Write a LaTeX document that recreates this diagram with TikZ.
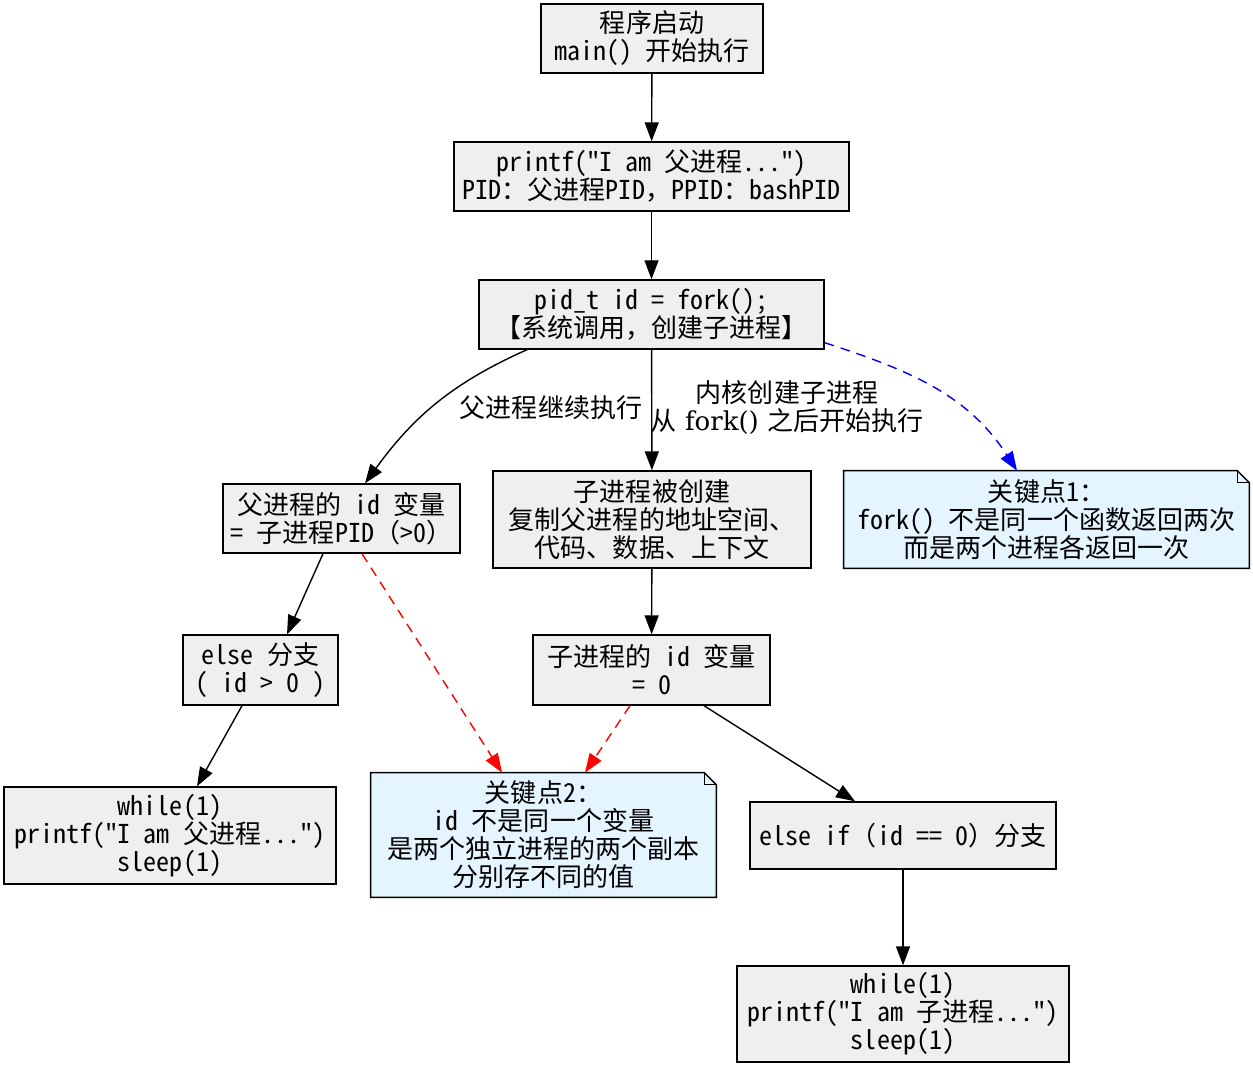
\documentclass[tikz,border=0pt]{standalone}
\usepackage{fontspec}
\setmainfont{Noto Sans CJK SC}[RawFeature=+hwid]
\newfontfamily\fw{Noto Sans CJK SC}
\newfontfamily\labelserif{DejaVu Serif}
\usetikzlibrary{positioning}
\usetikzlibrary{arrows.meta}
\usetikzlibrary{backgrounds}
\definecolor{boxgray}{RGB}{239,239,239}
\definecolor{noteblue}{RGB}{229,245,255}
\tikzset{
    procbox/.style 2 args = {rectangle, draw=black, line width=0.8pt, fill=boxgray, align=center, inner sep=0pt, minimum width=#1cm, minimum height=#2cm, font=\fontsize{14.8pt}{15.9pt}\selectfont},
    notebox/.style 2 args = {rectangle, align=center, inner sep=0pt, minimum width=#1cm, minimum height=#2cm, font=\fontsize{14.8pt}{15.9pt}\selectfont},
    notepaper/.style = {draw=black, line width=0.8pt, fill=noteblue},
    elabel/.style = {align=center, inner sep=0pt, font=\fontsize{14.8pt}{15.9pt}\selectfont},
    edgen/.style = {-{Triangle[length=0.38cm,width=0.28cm]}, line width=0.8pt},
    edger/.style = {edgen, red, dash pattern=on 5.5pt off 4pt}, % to key point 2
    edgeb/.style = {edgen, blue, dash pattern=on 5.5pt off 4pt}  % to key point 1
}

\begin{document}
\begin{tikzpicture}
\useasboundingbox (0,0) rectangle (25.06,-21.34);
%
\node[procbox={4.44}{1.38}] at (13.04, -0.77) (start) {程序启动\\main() 开始执行};
\node[procbox={7.90}{1.38}] at (13.03, -3.53) (hello) {printf({\fw"}I am 父进程...{\fw"})\\PID{\fw ：}父进程PID{\fw ，}PPID{\fw ：}bashPID};
\node[procbox={6.90}{1.38}] at (13.03, -6.29) (fork) {pid\_t id = fork();\\【系统调用{\fw ，}创建子进程】};
\node[procbox={4.74}{1.38}] at (6.83, -10.37) (pid) {父进程的 id 变量\\= 子进程PID{\fw （}>0{\fw ）}};
\node[procbox={6.36}{1.94}] at (13.04, -10.39) (child) {子进程被创建\\复制父进程的地址空间、\\代码、数据、上下文};
\node[notebox={8.10}{1.94}] at (20.93, -10.39) (note1) {关键点1{\fw ：}\\fork() 不是同一个函数返回两次\\而是两个进程各返回一次};
\node[procbox={3.10}{1.40}] at (5.21, -13.40) (else) {else 分支\\( id > 0 )};
\node[procbox={4.74}{1.40}] at (13.03, -13.40) (cid) {子进程的 id 变量\\= 0};
\node[procbox={6.64}{1.94}] at (3.40, -16.71) (ploop) {while(1)\\printf({\fw"}I am 父进程...{\fw"})\\sleep(1)};
\node[notebox={6.90}{2.48}] at (10.87, -16.70) (note2) {关键点2{\fw ：}\\id 不是同一个变量\\是两个独立进程的两个副本\\分别存不同的值};
\node[procbox={6.12}{1.34}] at (18.06, -16.71) (elseif) {else if{\fw （}id == 0{\fw ）}分支};
\node[procbox={6.64}{1.92}] at (18.06, -20.28) (cloop) {while(1)\\printf({\fw"}I am 子进程...{\fw"})\\sleep(1)};
%
\node[elabel] at (11.02, -8.16) (lblparent) {父进程继续执行};
\node[elabel] at (15.74, -8.16) (lblchild) {内核创建子进程\\从{\labelserif\ fork() }之后开始执行};
%
\begin{scope}[on background layer]
\fill[white] (0,0) rectangle (25.06,-21.34);
\foreach \n in {note1,note2}{
  \path[notepaper] (\n.south west) -- (\n.north west) -- ([xshift=-0.24cm]\n.north east) -- ([yshift=-0.24cm]\n.north east) -- (\n.south east) -- cycle;
  \draw[line width=0.8pt] ([xshift=-0.24cm]\n.north east) |- ([yshift=-0.24cm]\n.north east);
}
\end{scope}
%
\draw[edgen] (start) -- (hello);
\draw[edgen] (hello) -- (fork);
\draw[edgen] ([xshift=-2.49cm]fork.south) to[out=204,in=54] ([xshift=0.47cm]pid.north);
\draw[edgen] (fork) -- (child);
\draw[edgeb] ([yshift=0.14cm]fork.south east) to[out=-18,in=123] ([xshift=-0.59cm]note1.north);
\draw[edgen] ([xshift=-0.37cm]pid.south) -- ([xshift=0.53cm]else.north);
\draw[edger] ([xshift=0.41cm]pid.south) -- ([xshift=-0.83cm]note2.north);
\draw[edgen] (child) -- (cid);
\draw[edger] ([xshift=-0.43cm]cid.south) -- ([xshift=0.83cm]note2.north);
\draw[edgen] ([xshift=1.05cm]cid.south) -- ([xshift=-0.96cm]elseif.north);
\draw[edgen] ([xshift=-0.37cm]else.south) -- ([xshift=0.54cm]ploop.north);
\draw[edgen] (elseif) -- (cloop);

\end{tikzpicture}
\end{document}
